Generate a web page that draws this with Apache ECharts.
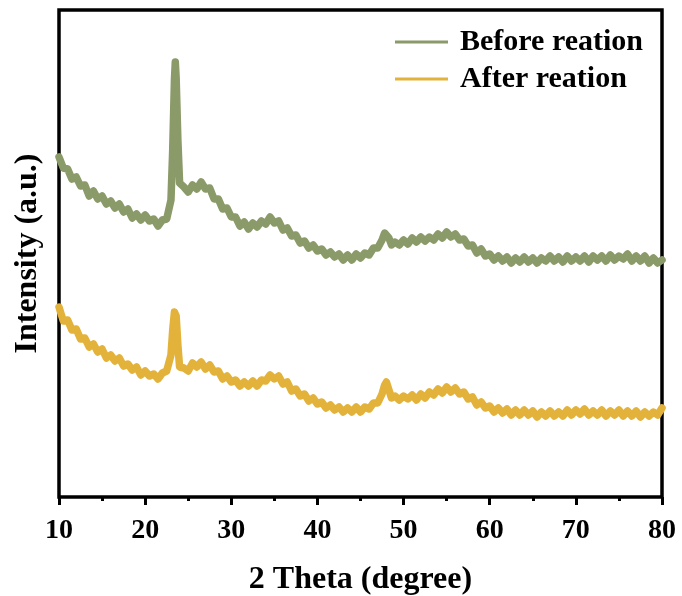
<!DOCTYPE html>
<html>
<head>
<meta charset="utf-8">
<script src="https://cdn.jsdelivr.net/npm/echarts@6/dist/echarts.min.js"></script>
<style>
  html, body { margin: 0; padding: 0; background: #fff; }
  #chart { width: 682px; height: 596px; }
</style>
</head>
<body>
<div id="chart"></div>
<script>
// 2θ positions (degrees) shared by both XRD patterns
const twoTheta = [
  10,10.5,11,11.5,12,12.5,13,13.5,14,14.5,15,15.5,16,16.5,17,17.5,18,18.5,19,19.5,
  20,20.5,21,21.5,22,22.5,23,23.2,23.4,23.5,23.6,23.8,24,24.5,25,25.5,26,26.5,27,27.5,
  28,28.5,29,29.5,30,30.5,31,31.5,32,32.5,33,33.5,34,34.5,35,35.5,36,36.5,37,37.5,
  38,38.5,39,39.5,40,40.5,41,41.5,42,42.5,43,43.5,44,44.5,45,45.5,46,46.5,47,47.5,
  47.8,48,48.3,48.6,49,49.5,50,50.5,51,51.5,52,52.5,53,53.5,54,54.5,55,55.5,56,56.5,
  57,57.5,58,58.5,59,59.5,60,60.5,61,61.5,62,62.5,63,63.5,64,64.5,65,65.5,66,66.5,
  67,67.5,68,68.5,69,69.5,70,70.5,71,71.5,72,72.5,73,73.5,74,74.5,75,75.5,76,76.5,
  77,77.5,78,78.5,79,79.5,80
];

// Intensity (a.u., offset for stacking) before the reaction
const beforeReaction = [
  340,329,328,318,320,311,312,301,306,298,301,293,296,289,293,285,288,279,283,277,
  282,276,278,271,277,278,297,347,417,435,419,357,314,310,305,312,308,315,308,309,
  298,298,288,289,280,280,271,275,268,274,270,276,273,280,274,276,267,269,261,262,
  254,256,249,252,246,248,242,245,240,243,237,242,237,243,239,244,242,249,249,257,
  264,266,259,252,255,252,257,253,259,255,260,256,260,257,263,259,265,260,263,257,
  258,251,252,244,248,241,243,237,241,236,240,234,239,235,240,235,239,234,239,236,
  241,236,240,235,241,236,240,236,241,235,241,237,241,236,242,237,241,238,243,236,
  241,236,241,234,239,234,237
];

// Intensity (a.u., offset for stacking) after the reaction
const afterReaction = [
  190,176,177,167,168,158,159,150,153,145,148,139,142,136,139,131,133,127,130,122,
  126,121,123,118,124,126,142,167,185,187,181,152,130,129,126,134,130,135,128,132,
  125,126,118,121,115,117,111,115,111,116,111,117,116,122,118,121,113,115,106,108,
  101,103,96,99,93,95,89,92,87,90,85,89,85,90,85,90,88,94,94,103,
  112,115,107,99,101,97,101,98,102,97,103,99,105,102,108,104,110,105,109,103,
  105,98,100,92,95,89,91,85,89,84,88,82,87,82,87,82,86,80,85,81,
  86,81,85,81,87,82,87,83,88,82,86,82,87,81,86,82,87,81,86,81,
  86,80,85,81,85,82,89
];

const seriesNames = ['Before reation', 'After reation'];
const seriesColors = ['#8A9A68', '#E3B23A'];

const toPairs = (ys) => ys.map((y, i) => [twoTheta[i], y]);

const serif = "'Liberation Serif', 'Times New Roman', serif";

const chart = echarts.init(document.getElementById('chart'), null, { renderer: 'canvas' });

chart.setOption({
  animation: false,
  backgroundColor: '#fff',
  grid: {
    left: 59, right: 20, top: 10, bottom: 99,
    outerBoundsMode: 'none',
    containLabel: false,
    show: true,
    borderColor: '#000',
    borderWidth: 3.5,
    backgroundColor: 'transparent'
  },
  legend: {
    left: 395,
    top: 27,
    padding: 0,
    orient: 'vertical',
    icon: 'rect',
    itemWidth: 53,
    itemHeight: 3,
    itemGap: 7,
    data: seriesNames,
    textStyle: {
      fontFamily: serif,
      fontWeight: 'bold',
      fontSize: 30,
      color: '#000',
      lineHeight: 30,
      padding: [0, 0, 0, 7]
    }
  },
  xAxis: {
    type: 'value',
    min: 10,
    max: 80,
    interval: 10,
    name: '2 Theta (degree)',
    nameLocation: 'middle',
    nameGap: 67,
    nameTextStyle: {
      fontFamily: serif,
      fontWeight: 'bold',
      fontSize: 32,
      color: '#000'
    },
    axisLine: { show: false },
    axisTick: {
      show: true,
      inside: false,
      length: 8,
      lineStyle: { color: '#000', width: 3 }
    },
    minorTick: {
      show: true,
      splitNumber: 2,
      length: 4,
      lineStyle: { color: '#000', width: 3 }
    },
    splitLine: { show: false },
    minorSplitLine: { show: false },
    axisLabel: {
      margin: 20,
      fontFamily: serif,
      fontWeight: 'bold',
      fontSize: 28,
      color: '#000'
    }
  },
  yAxis: {
    type: 'value',
    min: 0,
    max: 487,
    name: 'Intensity (a.u.)',
    nameLocation: 'middle',
    nameGap: 15,
    nameRotate: 90,
    nameTextStyle: {
      fontFamily: serif,
      fontWeight: 'bold',
      fontSize: 32,
      color: '#000'
    },
    axisLine: { show: false },
    axisTick: { show: false },
    axisLabel: { show: false },
    splitLine: { show: false }
  },
  series: [
    {
      name: seriesNames[0],
      type: 'line',
      data: toPairs(beforeReaction),
      showSymbol: false,
      color: seriesColors[0],
      lineStyle: { width: 7.5, color: seriesColors[0], join: 'round', cap: 'round' }
    },
    {
      name: seriesNames[1],
      type: 'line',
      data: toPairs(afterReaction),
      showSymbol: false,
      color: seriesColors[1],
      lineStyle: { width: 7.5, color: seriesColors[1], join: 'round', cap: 'round' }
    }
  ]
});
</script>
</body>
</html>
